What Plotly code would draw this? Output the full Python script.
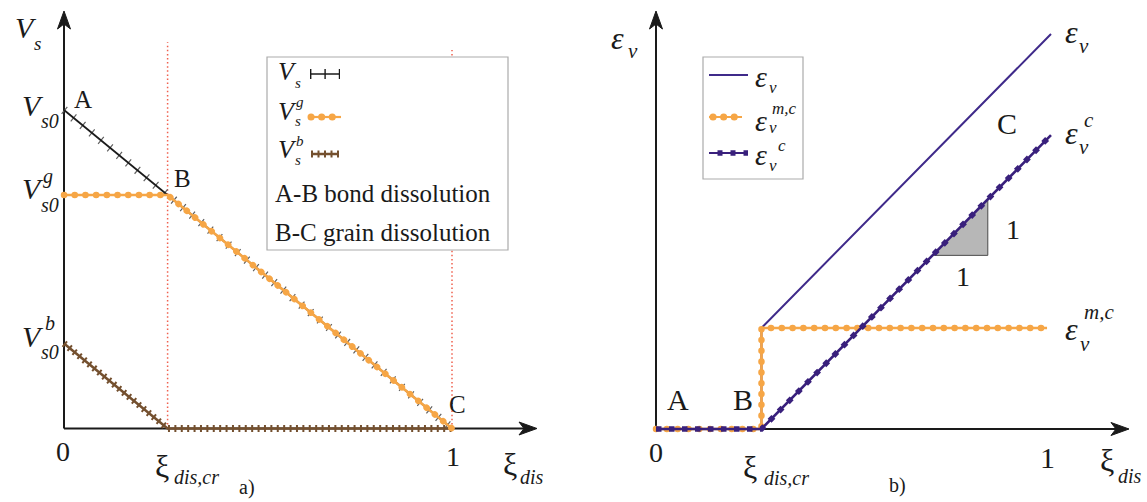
import plotly.graph_objects as go

W, H = 1147, 502
SERIF = "Liberation Serif, Times New Roman, serif"
INK = "#1a1a1a"
ORANGE = "#f6a646"
PURPLE = "#39207c"
PURPLE_LINE = "#3f2a8a"
BROWN = "#74502f"
RED = "#f0604e"
TICK_GREY = "#5f5f5f"

# ---------------- data ----------------
XI_CR = 0.267  # critical dissolution ratio xi_dis,cr

# a) solid volumes, relative to V_s0
VS_XI = [0.0, XI_CR, 1.0]
VS = [1.0, 0.733, 0.0]
VSG_XI = [0.0, XI_CR, 1.0]
VSG = [0.733, 0.733, 0.0]
VSB_XI = [0.0, XI_CR, 1.0]
VSB = [0.267, 0.0, 0.0]
GUIDE_XI = [XI_CR, 1.0]
GUIDE_TOP = [1.213, 1.188]

# b) volumetric strains
EV_XI = [0.0, XI_CR, XI_CR, 1.0]
EV = [0.0, 0.0, 0.252, 0.985]
EMC_XI = [0.0, XI_CR, XI_CR, 0.99]
EMC = [0.0, 0.0, 0.252, 0.252]
EC_XI = [0.0, XI_CR, 1.0]
EC = [0.0, 0.0, 0.733]
SLOPE_XI = [0.70, 0.84]  # horizontal leg of the unit-slope triangle

# ---------------- panel placement (pixels) ----------------
A_X0, A_Y0, A_SX, A_SY = 64, 428.5, 388, 318.5
B_X0, B_Y0, B_SX, B_SY = 656, 429, 395, 401

fig = go.Figure()


def line(xs, ys, color, width, dash="solid", axis="a", fill=None, fillcolor=None):
    xa, ya = ("x", "y") if axis == "a" else ("x2", "y2")
    fig.add_trace(go.Scatter(
        x=xs, y=ys, mode="lines", xaxis=xa, yaxis=ya, cliponaxis=False,
        line=dict(color=color, width=width, dash=dash),
        fill=fill, fillcolor=fillcolor, hoverinfo="skip"))


# ----- panel a -----
line(VS_XI, VS, TICK_GREY, 9, "1.2px,10.6px")          # tick marks of V_s
line(VS_XI, VS, INK, 1.8)
line(VSB_XI, VSB, BROWN, 7, "2px,4.4px")               # cross ticks of V_s^b
line(VSB_XI, VSB, BROWN, 2.6)
line(VSG_XI, VSG, ORANGE, 2.6)
line(VSG_XI, VSG, ORANGE, 6.5, "0.1px,10.6px")         # round dots of V_s^g

# ----- panel b -----
line(EV_XI, EV, PURPLE_LINE, 2, axis="b")
ec_slope = (EC[2] - EC[1]) / (EC_XI[2] - EC_XI[1])
tri_y0 = (SLOPE_XI[0] - XI_CR) * ec_slope
tri_y1 = (SLOPE_XI[1] - XI_CR) * ec_slope
line([SLOPE_XI[0], SLOPE_XI[1], SLOPE_XI[1], SLOPE_XI[0]],
     [tri_y0, tri_y0, tri_y1, tri_y0], "#4a4a4a", 1, axis="b",
     fill="toself", fillcolor="#b7b7b7")
line(EMC_XI, EMC, ORANGE, 2.6, axis="b")
line(EMC_XI, EMC, ORANGE, 6.5, "0.1px,10.7px", axis="b")
line(EC_XI, EC, PURPLE, 2.6, axis="b")
line(EC_XI, EC, PURPLE, 5.5, "5.5px,7.5px", axis="b")

shapes = []
annotations = []


def P(px, py):
    return px / W, 1 - py / H


def arrow_head(px, py, direction):
    """Filled stealth-style arrow head with its tip at pixel (px, py)."""
    if direction == "up":
        pts = [(px, py), (px - 6.5, py + 18), (px, py + 13), (px + 6.5, py + 18)]
    else:
        pts = [(px, py), (px - 18, py - 6.5), (px - 13, py), (px - 18, py + 6.5)]
    path = "M " + " L ".join("{:.5f},{:.5f}".format(*P(x, y)) for x, y in pts) + " Z"
    shapes.append(dict(type="path", xref="paper", yref="paper", path=path,
                       fillcolor=INK, line=dict(color=INK, width=1)))


def axis_line(xref, yref, x1, y1):
    shapes.append(dict(type="line", xref=xref, yref=yref, x0=0, y0=0, x1=x1, y1=y1,
                       line=dict(color=INK, width=2), layer="below"))


# axes
axis_line("x", "y", (525 - A_X0) / A_SX, 0)
axis_line("x", "y", 0, (A_Y0 - 24) / A_SY)
axis_line("x2", "y2", (1117 - B_X0) / B_SX, 0)
axis_line("x2", "y2", 0, (B_Y0 - 24) / B_SY)
arrow_head(537, A_Y0, "right")
arrow_head(A_X0, 11, "up")
arrow_head(1129, B_Y0, "right")
arrow_head(B_X0, 11, "up")

# dotted guides at xi_dis,cr and xi_dis = 1
for gx, gt in zip(GUIDE_XI, GUIDE_TOP):
    shapes.append(dict(type="line", xref="x", yref="y", x0=gx, x1=gx, y0=0, y1=gt,
                       line=dict(color=RED, width=1.5, dash="1.5px,2.6px"), layer="below"))


def txt(px, py, s, size, xanchor="center", italic=False, color=INK):
    x, y = P(px, py)
    annotations.append(dict(x=x, y=y, xref="paper", yref="paper", showarrow=False,
                            text=f"<i>{s}</i>" if italic else s,
                            font=dict(family=SERIF, size=size, color=color),
                            xanchor=xanchor, yanchor="middle"))


def seg(x0, y0, x1, y1, color, width, dash="solid"):
    a0, b0 = P(x0, y0)
    a1, b1 = P(x1, y1)
    shapes.append(dict(type="line", xref="paper", yref="paper", x0=a0, y0=b0, x1=a1, y1=b1,
                       line=dict(color=color, width=width, dash=dash)))


def box(x0, y0, x1, y1):
    a0, b0 = P(x0, y0)
    a1, b1 = P(x1, y1)
    shapes.append(dict(type="rect", xref="paper", yref="paper", x0=a0, y0=b0, x1=a1, y1=b1,
                       line=dict(color="#ababab", width=1.2), fillcolor="white"))


# ----- panel a labels -----
txt(13, 28, "V", 30, xanchor="left", italic=True)
txt(32, 43, "s", 19, xanchor="left", italic=True)
txt(20, 105, "V", 30, xanchor="left", italic=True)
txt(39, 121, "s0", 20, xanchor="left", italic=True)
txt(20, 188, "V", 30, xanchor="left", italic=True)
txt(41, 176, "g", 20, xanchor="left", italic=True)
txt(39, 205, "s0", 20, xanchor="left", italic=True)
txt(20, 336, "V", 30, xanchor="left", italic=True)
txt(43, 323, "b", 20, xanchor="left", italic=True)
txt(39, 352, "s0", 20, xanchor="left", italic=True)
txt(83, 99, "A", 25)
txt(182, 178, "B", 25)
txt(457, 404, "C", 25)
txt(63, 451, "0", 28)
txt(453, 456, "1", 28)
txt(162, 466, "ξ", 32)
txt(172, 477, "dis,cr", 20, xanchor="left", italic=True)
txt(510, 464, "ξ", 32)
txt(518, 477, "dis", 20, xanchor="left", italic=True)
txt(247, 487, "a)", 20)

# legend a
box(267, 57, 508, 250)
txt(276, 72, "V", 26, xanchor="left", italic=True)
txt(293, 83, "s", 15, xanchor="left", italic=True)
seg(310, 74, 340, 74, INK, 1.5)
seg(310, 74, 340, 74, INK, 10, "1.4px,13px")
txt(276, 111, "V", 26, xanchor="left", italic=True)
txt(294, 102, "g", 15, xanchor="left", italic=True)
txt(293, 121, "s", 15, xanchor="left", italic=True)
seg(309, 117, 341, 117, ORANGE, 2.2)
seg(311, 117, 341, 117, ORANGE, 7, "0.1px,10.5px")
txt(276, 150, "V", 26, xanchor="left", italic=True)
txt(294, 141, "b", 15, xanchor="left", italic=True)
txt(293, 160, "s", 15, xanchor="left", italic=True)
seg(311, 154, 339, 154, BROWN, 2.5)
seg(311, 154, 339, 154, BROWN, 7, "2px,4.5px")
txt(273, 193, "A-B bond dissolution", 25, xanchor="left")
txt(273, 232, "B-C grain dissolution", 25, xanchor="left")

# ----- panel b labels -----
txt(618, 38, "ε", 32, italic=True)
txt(633, 51, "v", 21, italic=True)
txt(1071, 32, "ε", 32, italic=True)
txt(1084, 46, "v", 21, italic=True)
txt(1071, 133, "ε", 32, italic=True)
txt(1089, 120, "c", 21, italic=True)
txt(1084, 147, "v", 21, italic=True)
txt(1071, 329, "ε", 32, italic=True)
txt(1082, 312, "m,c", 21, xanchor="left", italic=True)
txt(1085, 344, "v", 21, italic=True)
txt(1007, 123, "C", 30)
txt(678, 399, "A", 30)
txt(743, 399, "B", 30)
txt(656, 452, "0", 28)
txt(1047, 457, "1", 30)
txt(750, 467, "ξ", 32)
txt(762, 478, "dis,cr", 20, xanchor="left", italic=True)
txt(1107, 460, "ξ", 32)
txt(1116, 476, "dis", 20, xanchor="left", italic=True)
txt(897, 485, "b)", 20)
txt(1013, 229, "1", 28)
txt(963, 276, "1", 28)

# legend b
box(703, 57, 803, 179)
seg(709, 75, 748, 75, PURPLE_LINE, 2)
txt(761, 77, "ε", 30, italic=True)
txt(773, 87, "v", 17, italic=True)
seg(709, 117, 742, 117, ORANGE, 2.2)
seg(713, 117, 742, 117, ORANGE, 7, "0.1px,10.5px")
txt(761, 120, "ε", 30, italic=True)
txt(770, 108, "m,c", 17, xanchor="left", italic=True)
txt(773, 127, "v", 17, italic=True)
seg(709, 153, 748, 153, PURPLE, 2.2)
seg(717.5, 153, 748, 153, PURPLE, 5.5, "5px,8px")
txt(761, 155, "ε", 30, italic=True)
txt(782, 146, "c", 17, italic=True)
txt(773, 166, "v", 17, italic=True)

hidden = dict(visible=False, fixedrange=True)
fig.update_layout(
    width=W, height=H, margin=dict(l=0, r=0, t=0, b=0),
    paper_bgcolor="white", plot_bgcolor="rgba(0,0,0,0)", showlegend=False,
    xaxis=dict(domain=[0, 1], range=[-A_X0 / A_SX, (W - A_X0) / A_SX], anchor="y", **hidden),
    yaxis=dict(domain=[0, 1], range=[(A_Y0 - H) / A_SY, A_Y0 / A_SY], anchor="x", **hidden),
    xaxis2=dict(domain=[0, 1], range=[-B_X0 / B_SX, (W - B_X0) / B_SX], anchor="y2", **hidden),
    yaxis2=dict(domain=[0, 1], range=[(B_Y0 - H) / B_SY, B_Y0 / B_SY], anchor="x2", **hidden),
    shapes=shapes, annotations=annotations,
)

# zero-length dashes with round caps give the dotted-circle line style
ROUND_DOTS = """
var gd = document.getElementById('{plot_id}');
function roundDots() {
  gd.querySelectorAll('path').forEach(function (p) {
    var d = p.style.strokeDasharray || '';
    if (d.indexOf('0.1') === 0) { p.style.strokeLinecap = 'round'; }
  });
}
roundDots();
gd.on('plotly_afterplot', roundDots);
"""

fig.write_html("out.html", config={"displayModeBar": False}, post_script=ROUND_DOTS)
